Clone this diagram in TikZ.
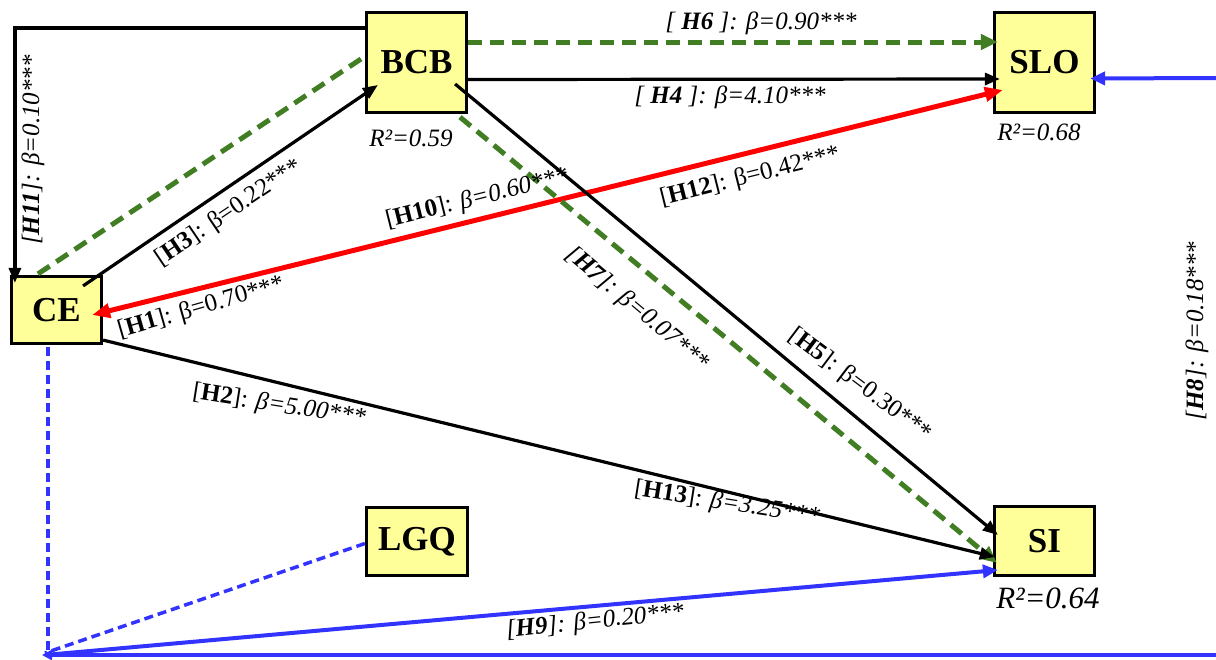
\documentclass[tikz,border=0pt]{standalone}
\usepackage{fontspec}
\setmainfont{Liberation Serif}
\usetikzlibrary{arrows.meta,calc}
\definecolor{boxfill}{HTML}{FFFF99}
\definecolor{pgreen}{RGB}{64,125,35}
\definecolor{pred}{RGB}{255,0,0}
\definecolor{pblue}{RGB}{51,51,255}
\tikzset{
  box/.style={draw=black, line width=3.2pt, fill=boxfill, inner sep=0pt,
    font=\fontsize{35}{40}\selectfont\bfseries},
  lab/.style={font=\fontsize{25}{29}\selectfont, inner sep=1pt},
  rlab/.style={font=\fontsize{25}{29}\selectfont\itshape, inner sep=1pt},
  blk/.style={draw=black, line width=3.2pt, -{Triangle[length=15pt,width=12pt]}},
  gdash/.style={draw=pgreen, line width=5pt, dash pattern=on 14pt off 8pt},
  garr/.style={gdash, -{Triangle[length=17pt,width=15pt]}},
  redarr/.style={draw=pred, line width=5pt, {Triangle[length=18pt,width=14pt]}-{Triangle[length=18pt,width=14pt]}},
  bdash/.style={draw=pblue, line width=3.5pt, dash pattern=on 9pt off 5pt},
  barr/.style={draw=pblue, line width=4pt, -{Triangle[length=15pt,width=13pt]}},
  bsmall/.style={draw=pblue, line width=4pt, -{Triangle[length=10pt,width=10pt]}}
}
\begin{document}
\begin{tikzpicture}[x=1pt,y=-1pt]
\useasboundingbox (0,0) rectangle (1216,659);
% nodes
\node[box, minimum width=100pt, minimum height=100pt] (BCB) at (416.5,62.5) {BCB};
\node[box, minimum width=100pt, minimum height=100pt] (SLO) at (1044.5,62.5) {SLO};
\node[box, minimum width=90pt, minimum height=67pt] (CE) at (56.5,310) {CE};
\node[box, minimum width=101pt, minimum height=68pt] (LGQ) at (417,541.5) {LGQ};
\node[box, minimum width=100pt, minimum height=69pt] (SI) at (1044.5,541) {SI};
\coordinate (K) at (42,655);
\coordinate (RB) at (1216,655);
\coordinate (RT) at (1216,78);
% connectors
\draw[blk] ($(BCB.west)+(0,-34.5)$) -| ($(CE.north west)+(5,8)$);
\draw[gdash] ($(CE.north)+(-18.5,-1)$) -- ($(BCB.west)+(2,-7.5)$);
\draw[blk] ($(CE.north east)+(-20,11)$) -- ($(BCB.west)+(13,22.5)$);
\draw[garr] ($(BCB.east)+(0,-20.5)$) -- ($(SLO.west)+(5,-20.5)$);
\draw[blk] ($(BCB.east)+(0,17)$) -- ($(SLO.west)+(7,16.5)$);
\draw[redarr] ($(CE.east)+(-11,5)$) -- ($(SLO.west)+(10,27.5)$);
\draw[blk] ($(BCB.east)+(-13,21.5)$) -- ($(SI.west)+(5,-6)$);
\draw[garr] ($(BCB.south)+(43.5,3)$) -- ($(SI.west)+(4,22)$);
\draw[blk] ($(CE.south east)+(0,-5)$) -- ($(SI.west)+(2,16)$);
\draw[bdash] ($(CE.south)+(-8.5,2)$) -- ($(K)+(6,-5)$);
\draw[bdash] ($(LGQ.west)+(0,2)$) -- ($(K)+(3,-2)$);
\draw[barr] ($(K)+(3,0)$) -- ($(SI.west)+(5,29)$);
\draw[bsmall] (RB) -- (K);
\draw[barr] (RT) -- ($(SLO.east)+(-6,16)$);
% labels
\node[rlab, rotate=90] (l11) at (33,150) {[\textbf{H11}]: β=0.10***};
\node[lab, rotate=34] (l3) at (229,213) {[\textbf{H3}]: β=0.22***};
\node[lab, rotate=16] (l1) at (201,308) {[\textbf{H1}]: β=0.70***};
\node[lab, rotate=14] (l10) at (477,199) {[\textbf{H10}]: \itshape β=0.60***};
\node[lab, rotate=14] (l12) at (750,177) {[\textbf{H12}]: β=0.42***};
\node[rlab] (l6) at (761,23) {[ \textbf{H6} ]: β=0.90***};
\node[rlab] (l4) at (730,97) {[ \textbf{H4} ]: β=4.10***};
\node[rlab, rotate=-40] (l7) at (637,309) {[\textbf{H7}]: β=0.07***};
\node[lab, rotate=-37] (l5) at (860,385) {[\textbf{H5}]: β=0.30***};
\node[lab, rotate=-9] (l2) at (279,406) {[\textbf{H2}]: \itshape β=5.00***};
\node[lab, rotate=-9] (l13) at (727,504) {[\textbf{H13}]: \itshape β=3.25***};
\node[rlab, rotate=6] (l9) at (595,622) {[\textbf{H9}]: β=0.20***};
\node[rlab, rotate=90] (l8) at (1197,331) {[\textbf{H8}]: β=0.18***};
\node[rlab] (r1) at (411,138) {R²=0.59};
\node[rlab] (r2) at (1039,132) {R²=0.68};
\node[rlab, font=\fontsize{31}{35}\selectfont\itshape] (r3) at (1048,598) {R²=0.64};
\end{tikzpicture}
\end{document}
